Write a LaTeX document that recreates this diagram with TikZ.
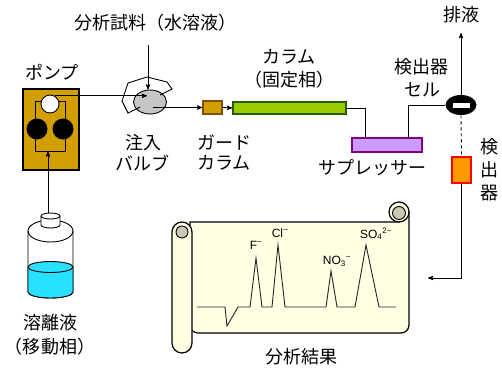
\documentclass[tikz,border=0pt]{standalone}
\usepackage{fontspec}
\setmainfont{Noto Sans CJK JP}
\newfontfamily\ionfont{Liberation Sans}
\usetikzlibrary{arrows,shapes.geometric,positioning}

\definecolor{pumpgold}{RGB}{210,158,0}
\definecolor{guardedge}{RGB}{128,80,0}
\definecolor{colfill}{RGB}{153,204,0}
\definecolor{coledge}{RGB}{40,90,0}
\definecolor{suppfill}{RGB}{204,153,255}
\definecolor{suppedge}{RGB}{128,0,128}
\definecolor{detfill}{RGB}{255,153,0}
\definecolor{eluent}{RGB}{40,225,255}
\definecolor{paper}{RGB}{255,255,228}
\definecolor{curl}{RGB}{200,200,180}

\begin{document}
\begin{tikzpicture}[x=1pt,y=-1pt,>=stealth',line width=0.9pt,
                    font=\fontsize{18}{22}\selectfont]
  \tikzstyle{part}=[rectangle,draw,line width=1.4pt,inner sep=0pt]
  \tikzstyle{ion}=[font=\ionfont\fontsize{12}{14}\selectfont,inner sep=0pt]

  \useasboundingbox (0,0) rectangle (502,367);

  % pump
  \node[part,fill=pumpgold,minimum width=56,minimum height=81] (pump) at (51,129.5) {};
  \node[rectangle,draw,minimum width=30,minimum height=50,inner sep=0pt] (inner) at (50,126) {};
  \node[circle,draw,fill=white,minimum size=18,inner sep=0pt] (wcirc) at (50,104) {};
  \node[circle,fill=black,minimum size=21,inner sep=0pt] (bl) at (37,129) {};
  \node[circle,fill=black,minimum size=21,inner sep=0pt] (br) at (63,129) {};
  \node (pumplbl) at (52,72) {ポンプ};

  % eluent bottle (y runs downwards, so 0..180 is the front half)
  \filldraw[fill=white] (28,231) -- (28,292) arc[start angle=180,end angle=0,x radius=22.5,y radius=6]
                        -- (73,231) arc[start angle=0,end angle=-180,x radius=22.5,y radius=11] -- cycle;
  \filldraw[fill=eluent] (28,267) -- (28,292) arc[start angle=180,end angle=0,x radius=22.5,y radius=6]
                         -- (73,267) arc[start angle=0,end angle=-180,x radius=22.5,y radius=5.5] -- cycle;
  \draw (28,267) arc[start angle=180,end angle=0,x radius=22.5,y radius=5.5];
  \draw (28,231) arc[start angle=180,end angle=0,x radius=22.5,y radius=11];
  \filldraw[fill=white] (41,216) -- (41,225) arc[start angle=180,end angle=0,x radius=9.5,y radius=3]
                        -- (60,216) arc[start angle=0,end angle=-180,x radius=9.5,y radius=3] -- cycle;
  \draw (41,216) arc[start angle=180,end angle=0,x radius=9.5,y radius=3];
  \coordinate (captop) at (48,213);
  \node (eluentlbl) at (50,323) {溶離液};
  \node (mobilelbl) at (50,347) {（移動相）};

  % injection valve with its loop
  \node[ellipse,draw,fill=gray!45,minimum width=33,minimum height=24,inner sep=0pt] (valve) at (150,102) {};
  \draw (160,95) -- (172,89) -- (167,82) -- (147,77) -- (128,83) -- (122,101) -- (128,113) -- (140,107);
  \node (samplbl) at (155,23) {分析試料（水溶液）};
  \coordinate (samp) at (148,45);
  \node (injlbl) at (143,143) {注入};
  \node (valvelbl) at (142,163) {バルブ};

  % columns and suppressor
  \node[part,draw=guardedge,fill=pumpgold,minimum width=19,minimum height=13] (guard) at (212.5,107.5) {};
  \node[part,draw=coledge,fill=colfill,minimum width=113,minimum height=12] (column) at (289.5,108) {};
  \node[part,draw=suppedge,fill=suppfill,minimum width=70,minimum height=14] (supp) at (387,145) {};
  \node (guardlbl) at (224,142) {ガード};
  \node (guardlbl2) at (224,163) {カラム};
  \node (collbl) at (289,57) {カラム};
  \node (collbl2) at (289,80) {（固定相）};
  \node (supplbl) at (372,168) {サプレッサー};

  % detector
  \node[ellipse,fill=black,minimum width=31,minimum height=20,inner sep=0pt] (cell) at (461,105) {};
  \node[rectangle,fill=white,minimum width=17,minimum height=5,inner sep=0pt] (cellwin) at (cell) {};
  \node[part,draw=red,fill=detfill,minimum width=19,minimum height=26] (det) at (461.5,170) {};
  \node (drainlbl) at (461,15) {排液};
  \coordinate (drain) at (461,33);
  \node (celllbl) at (421,67) {検出器};
  \node (celllbl2) at (422,90) {セル};
  \node[align=center,font=\fontsize{18}{23}\selectfont] (detlbl) at (489,170) {検\\出\\器};
  \coordinate (rec) at (428,278);

  % chart paper
  \filldraw[fill=paper,line width=1.2pt] (190,222) -- (399,222) -- (399,212) -- (409,212)
        [rounded corners=8] -- (409,333) -- (190,333) [sharp corners] -- cycle;
  \filldraw[fill=paper,line width=1.2pt] (399,212) circle (10);
  \filldraw[fill=curl] (399,213) circle (6.5);
  \filldraw[fill=paper,line width=1.2pt,rounded corners=10] (172,222) rectangle (192,353);
  \filldraw[fill=curl] (182,232) circle (6);

  % chromatogram
  \draw[black!85] (197,307) -- (225,307) -- (227,326) -- (238,307) -- (250,307)
        -- (256,258) -- (262,307) -- (272,307) -- (278,245) -- (285,307)
        -- (326,307) -- (331,271) -- (337,307) -- (355,307) -- (366,245)
        -- (379,307) -- (396,307);
  \node[ion] (fion) at (256,245) {F\textsuperscript{−}};
  \node[ion] (clion) at (280,233) {Cl\textsuperscript{−}};
  \node[ion] (noion) at (337,261) {NO\textsubscript{3}\textsuperscript{−}};
  \node[ion] (soion) at (376,234) {SO\textsubscript{4}\textsuperscript{2−}};
  \node (resultlbl) at (301,357) {分析結果};

  % flow lines
  \draw[->] (captop) -- (captop |- inner.south);
  \draw[->] (wcirc.60) -- ([xshift=-3pt]valve.center |- wcirc.60);
  \draw[->] (samp) -- (samp |- valve.north);
  \draw[->] ([xshift=3pt]valve.center |- guard.west) -- (guard.west);
  \draw[->] (guard.east) -- (column.west);
  \draw (column.east) -| ([xshift=-22pt]supp.north);
  \draw ([xshift=21pt]supp.north) |- (cell.west);
  \draw[->] (cell.north) -- (drain);
  \draw[dashed] (cell.south) -- (det.north);
  \draw[->] (det.south) |- (rec);
\end{tikzpicture}
\end{document}
